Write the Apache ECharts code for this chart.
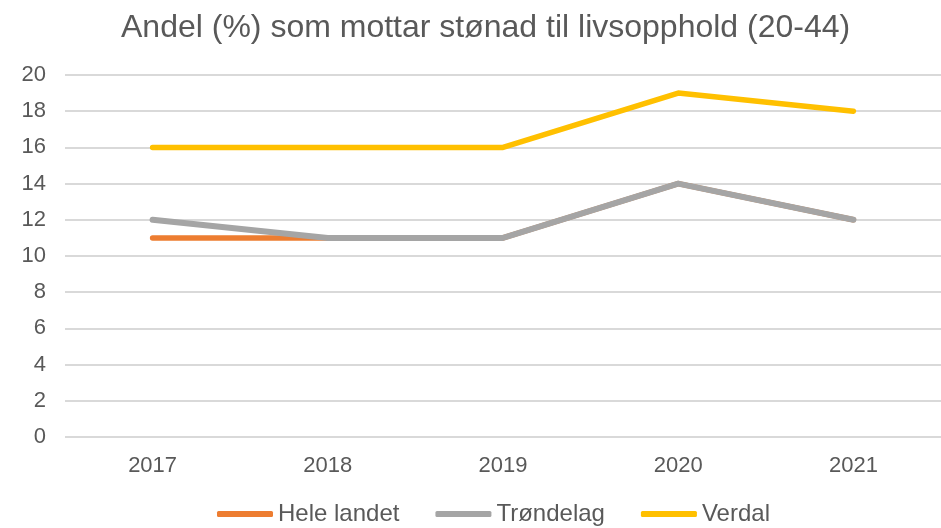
<!DOCTYPE html>
<html>
<head>
<meta charset="utf-8">
<script src="https://cdn.jsdelivr.net/npm/echarts@6/dist/echarts.min.js"></script>
<style>
  html, body { margin: 0; padding: 0; background: #fff; }
  #chart { width: 941px; height: 528px; }
</style>
</head>
<body>
<div id="chart"></div>
<script>
const years = ["2017", "2018", "2019", "2020", "2021"];
const heleLandet = [11, 11, 11, 14, 12];
const trondelag = [12, 11, 11, 14, 12];
const verdal = [16, 16, 16, 19, 18];

const textColor = "#595959";
const font = "'Liberation Sans', Arial, sans-serif";

const chart = echarts.init(document.getElementById("chart"), null, { renderer: "canvas" });

function line(name, data, color, width) {
  return {
    name: name,
    type: "line",
    data: data,
    showSymbol: false,
    symbol: "none",
    color: color,
    lineStyle: { width: width, color: color, cap: "round", join: "round" },
    animation: false
  };
}

chart.setOption({
  backgroundColor: "#fff",
  textStyle: { fontFamily: font, color: textColor },
  title: {
    text: "Andel (%) som mottar stønad til livsopphold (20-44)",
    left: 116,
    top: 7,
    textStyle: { fontFamily: font, fontSize: 32, fontWeight: "normal", color: textColor }
  },
  grid: { left: 65, right: -6, top: 75, bottom: 91 },
  legend: {
    bottom: -3,
    left: 212,
    itemWidth: 56,
    itemHeight: 6,
    itemGap: 36,
    icon: "roundRect",
    textStyle: { fontFamily: font, fontSize: 24, color: textColor },
    data: ["Hele landet", "Trøndelag", "Verdal"]
  },
  xAxis: {
    type: "category",
    data: years,
    boundaryGap: true,
    axisLine: { show: false },
    axisTick: { show: false },
    axisLabel: { fontFamily: font, fontSize: 22, color: textColor, margin: 18 }
  },
  yAxis: {
    type: "value",
    min: 0,
    max: 20,
    interval: 2,
    axisLine: { show: false },
    axisTick: { show: false },
    splitLine: { lineStyle: { color: "#d9d9d9", width: 2 } },
    axisLabel: { fontFamily: font, fontSize: 22, color: textColor, margin: 19 }
  },
  series: [
    line("Hele landet", heleLandet, "#ed7d31", 5.5),
    line("Trøndelag", trondelag, "#a5a5a5", 6),
    line("Verdal", verdal, "#ffc000", 5.5)
  ]
});
</script>
</body>
</html>
